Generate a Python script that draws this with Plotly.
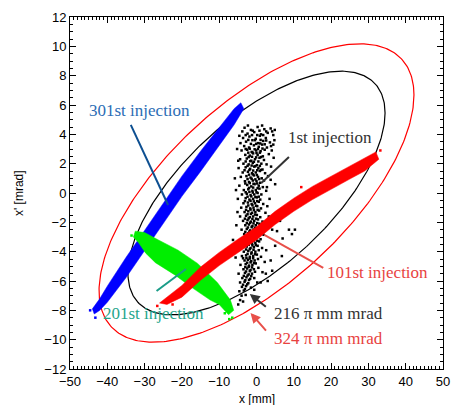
import numpy as np
import plotly.graph_objects as go

# ---------------- data ----------------
# Twiss parameters of the acceptance ellipses and emittances [pi mm mrad]
twiss_alpha = -0.87
twiss_beta = 5.5          # mm/mrad
emittances = [216, 324]
ellipse_colors = ["black", "red"]

# 1st injection (black cloud), individual particles
black_pts = [
    (-3.2, 4.45), (-1.5, 4.3), (0.3, 4.5), (2.1, 4.35), (3.8, 4.4),
    (-2.4, 4.05), (-0.6, 4.15), (1.2, 4.0), (3.0, 4.1), (4.5, 3.95),
    (-3.6, 3.75), (-1.9, 3.85), (-0.2, 3.7), (0.9, 3.9), (2.5, 3.75),
    (-2.8, 3.5), (-1.1, 3.6), (0.4, 3.4), (1.8, 3.55), (3.6, 3.45),
    (-3.3, 3.2), (-2.0, 3.1), (-0.7, 3.25), (0.6, 3.15), (1.5, 3.3), (2.8, 3.1),
    (-4.0, 2.9), (-2.5, 2.95), (-1.3, 2.8), (-0.1, 2.9), (1.1, 2.85), (2.2, 2.95),
    (-3.0, 2.6), (-1.8, 2.55), (-0.9, 2.7), (0.3, 2.6), (1.7, 2.5), (3.3, 2.65),
    (-4.4, 2.3), (-2.6, 2.35), (-1.4, 2.2), (-0.4, 2.3), (0.8, 2.4), (2.0, 2.25),
    (-3.5, 2.0), (-2.1, 1.95), (-1.0, 2.05), (0.1, 1.9), (1.3, 2.0), (2.7, 1.95),
    (-4.8, 1.7), (-2.9, 1.75), (-1.7, 1.65), (-0.6, 1.8), (0.5, 1.7), (1.6, 1.6),
    (-3.7, 1.4), (-2.3, 1.45), (-1.2, 1.35), (-0.2, 1.4), (0.9, 1.5), (2.3, 1.35),
    (-4.2, 1.1), (-2.7, 1.15), (-1.6, 1.05), (-0.7, 1.2), (0.4, 1.1), (1.4, 1.0), (3.1, 1.15),
    (-3.1, 0.8), (-2.0, 0.75), (-1.0, 0.85), (0.0, 0.8), (1.0, 0.7), (2.0, 0.85),
    (-4.6, 0.5), (-2.5, 0.55), (-1.4, 0.45), (-0.5, 0.6), (0.6, 0.5), (1.7, 0.4),
    (-3.4, 0.2), (-2.2, 0.25), (-1.1, 0.15), (-0.2, 0.2), (0.8, 0.3), (2.6, 0.15),
    (-3.9, -0.1), (-2.6, -0.05), (-1.6, -0.15), (-0.6, -0.1), (0.3, 0.0), (1.3, -0.1),
    (-5.0, -0.4), (-2.9, -0.35), (-1.9, -0.45), (-0.9, -0.4), (0.1, -0.3), (1.0, -0.45), (3.5, -0.4),
    (-3.5, -0.7), (-2.3, -0.65), (-1.3, -0.75), (-0.4, -0.7), (0.6, -0.6), (1.8, -0.75),
    (-4.1, -1.0), (-2.7, -0.95), (-1.7, -1.05), (-0.8, -1.0), (0.2, -0.9), (1.2, -1.05),
    (-3.2, -1.3), (-2.2, -1.25), (-1.2, -1.35), (-0.3, -1.3), (0.7, -1.2), (2.4, -1.35),
    (-4.4, -1.6), (-2.8, -1.55), (-1.8, -1.65), (-0.9, -1.6), (0.1, -1.5), (1.0, -1.65),
    (-3.6, -1.9), (-2.4, -1.85), (-1.5, -1.95), (-0.6, -1.9), (0.4, -1.8), (1.6, -1.95),
    (-3.0, -2.2), (-2.0, -2.15), (-1.1, -2.25), (-0.2, -2.2), (0.8, -2.1), (2.0, -2.25),
    (-4.0, -2.5), (-2.6, -2.45), (-1.7, -2.55), (-0.8, -2.5), (0.2, -2.4), (1.3, -2.55), (4.2, -2.5),
    (-3.3, -2.8), (-2.2, -2.75), (-1.3, -2.85), (-0.4, -2.8), (0.6, -2.7), (1.9, -2.85),
    (-3.8, -3.1), (-2.7, -3.05), (-1.8, -3.15), (-0.9, -3.1), (0.1, -3.0), (1.1, -3.15),
    (-3.1, -3.4), (-2.1, -3.35), (-1.2, -3.45), (-0.3, -3.4), (0.7, -3.3),
    (-4.5, -3.7), (-2.6, -3.65), (-1.6, -3.75), (-0.7, -3.7), (0.3, -3.6), (1.5, -3.75),
    (-3.4, -4.0), (-2.2, -3.95), (-1.3, -4.05), (-0.3, -4.0), (0.6, -3.9),
    (-3.9, -4.3), (-2.8, -4.25), (-1.8, -4.35), (-0.9, -4.3), (0.1, -4.2), (1.2, -4.35),
    (-3.2, -4.6), (-2.3, -4.55), (-1.4, -4.65), (-0.5, -4.6), (0.4, -4.5),
    (-4.3, -4.9), (-2.9, -4.85), (-2.0, -4.95), (-1.1, -4.9), (-0.2, -4.8),
    (-3.5, -5.2), (-2.5, -5.15), (-1.6, -5.25), (-0.7, -5.2), (0.5, -5.1),
    (-4.8, -5.5), (-3.1, -5.45), (-2.1, -5.55), (-1.2, -5.5),
    (-3.8, -5.8), (-2.7, -5.75), (-1.7, -5.85), (-0.6, -5.8),
    (-4.4, -6.1), (-3.2, -6.05), (-2.2, -6.15),
    (-3.9, -6.4), (-2.8, -6.35), (-1.5, -6.45),
    (-4.6, -6.7), (-3.4, -6.65),
    (-4.0, -7.0), (-2.9, -6.95),
    (-4.4, -7.3), (-4.9, -7.6), (-3.6, -7.4),
    # denser core, between the rows above
    (-1.0, 4.25), (0.8, 4.25), (2.6, 4.2), (-3.8, 4.2), (4.2, 4.2),
    (-2.9, 3.95), (-1.2, 3.95), (0.2, 3.95), (1.8, 3.95),
    (-2.2, 3.62), (-0.4, 3.6), (1.1, 3.62), (2.6, 3.58), (-4.3, 3.4), (3.9, 3.2),
    (-1.5, 3.35), (-0.1, 3.35), (1.0, 3.38), (2.2, 3.32),
    (-2.9, 3.0), (-1.8, 3.02), (-0.5, 2.98), (0.4, 3.0), (1.6, 3.03),
    (-2.2, 2.75), (-1.1, 2.77), (0.0, 2.73), (0.9, 2.75),
    (-2.1, 2.45), (-1.2, 2.47), (-0.1, 2.43), (1.2, 2.45), (4.6, 2.4),
    (-2.9, 2.15), (-1.7, 2.17), (-0.7, 2.13), (0.5, 2.15),
    (-2.4, 1.85), (-1.3, 1.87), (-0.3, 1.83), (0.9, 1.85),
    (-3.2, 1.55), (-1.9, 1.57), (-0.9, 1.53), (0.2, 1.55), (1.2, 1.57),
    (-2.0, 1.25), (-1.0, 1.27), (0.1, 1.23),
    (-2.4, 0.95), (-1.3, 0.97), (-0.3, 0.93), (0.7, 0.95),
    (-3.0, 0.65), (-1.8, 0.67), (-0.8, 0.63), (0.2, 0.65),
    (-2.0, 0.35), (-0.9, 0.37), (0.3, 0.33),
    (-2.9, 0.05), (-1.9, 0.07), (-1.0, 0.03), (0.0, 0.05),
    (-2.4, -0.25), (-1.4, -0.23), (-0.3, -0.27), (0.6, -0.25),
    (-3.1, -0.55), (-1.6, -0.53), (-0.7, -0.57), (0.2, -0.55),
    (-2.2, -0.85), (-1.1, -0.83), (-0.1, -0.87),
    (-2.8, -1.15), (-1.6, -1.13), (-0.7, -1.17), (0.3, -1.15),
    (-2.4, -1.45), (-1.5, -1.43), (-0.4, -1.47),
    (-3.1, -1.75), (-2.1, -1.73), (-1.1, -1.77), (-0.1, -1.75),
    (-2.6, -2.05), (-1.7, -2.03), (-0.8, -2.07), (0.2, -2.05),
    (-2.3, -2.35), (-1.3, -2.33), (-0.4, -2.37),
    (-3.0, -2.65), (-1.9, -2.63), (-0.9, -2.67), (0.1, -2.65),
    (-2.5, -2.95), (-1.5, -2.93), (-0.5, -2.97),
    (-2.7, -3.25), (-1.7, -3.23), (-0.8, -3.27), (0.2, -3.25),
    (-3.3, -3.55), (-2.1, -3.53), (-1.1, -3.57), (-0.2, -3.55),
    (-2.8, -3.85), (-1.8, -3.83), (-0.8, -3.87),
    (-2.4, -4.15), (-1.4, -4.13), (-0.4, -4.17),
    (-3.6, -4.45), (-2.7, -4.43), (-1.8, -4.47), (-0.9, -4.45),
    (-2.5, -4.75), (-1.6, -4.73), (-0.6, -4.77),
    (-3.0, -5.05), (-2.1, -5.03), (-1.2, -5.07),
    (-2.8, -5.35), (-1.8, -5.33), (-0.4, -5.37),
    (-3.4, -5.65), (-2.4, -5.63), (-1.4, -5.67),
    (-3.0, -5.95), (-2.0, -5.93),
    (-3.6, -6.25), (-2.5, -6.23),
    (-3.1, -6.55),
    # sparse particles around the column edges
    (-5.2, 3.0), (4.8, 3.6), (-4.9, 2.2), (4.1, 2.9), (-5.5, 0.2), (3.8, 0.9),
    (-5.1, -1.3), (3.3, -1.6), (-5.4, -2.2), (2.9, -0.9), (-4.9, -3.9), (2.6, -3.9),
    (2.2, -4.7), (1.6, -5.4), (-5.6, -4.4), (1.1, -6.1), (-0.6, -6.6), (0.2, -6.1),
    (3.2, -2.2), (2.8, 0.4), (-4.6, 3.9), (4.9, 4.3), (-2.3, 4.6), (1.5, 4.6),
    # stray particles to the right of the column
    (4.5, -2.0), (5.5, -2.6), (6.3, -1.9), (7.0, -3.1), (8.7, -2.5), (9.5, -2.8),
    (10.3, -2.5), (5.0, -3.6), (6.8, -4.3), (3.8, -4.6), (4.2, -5.3), (3.0, -6.0),
    (2.5, -5.5), (4.5, 3.3), (5.0, 0.6), (-5.8, 1.0), (-6.3, -3.2), (3.9, 1.8),
]
black_x = [p[0] for p in black_pts]
black_y = [p[1] for p in black_pts]

# 101st injection (red band outline)
red_x = [-26, -20, -15, -10, -5, 0, 5, 10, 15, 20, 25, 29, 32,
         32.8, 29, 25, 20, 15, 10, 5, 0, -5, -10, -15, -20, -24]
red_y = [-7.5, -6.3, -5.05, -4.05, -3.15, -2.3, -1.25, -0.35, 0.45, 1.15, 1.85, 2.4, 2.8,
         2.3, 1.5, 0.95, 0.25, -0.45, -1.25, -2.15, -3.2, -4.05, -4.95, -5.95, -7.1, -7.6]
red_stray_x = [33.2, -26.6, -22.5, 12.0]
red_stray_y = [2.9, -7.7, -7.6, 0.4]

# 201st injection (green cloud outline)
green_x = [-32.5, -30, -26.3, -21, -15.8, -10.5, -7, -6.1, -7.5, -10, -12.4, -17.6, -21.8, -27.1, -29.7, -31.6, -33]
green_y = [-2.6, -2.7, -3.2, -3.9, -4.8, -6.1, -7.3, -8.0, -8.3, -7.6, -7.3, -6.4, -5.6, -4.75, -4.1, -3.4, -3.0]
green_stray_x = [-33.5, -6.5, -7.3, -8.5]
green_stray_y = [-2.9, -8.5, -8.6, -8.2]

# 301st injection (blue band outline)
blue_x = [-44, -42, -40, -35, -30, -25, -20, -15, -10, -6, -4.2,
          -3.4, -6, -10, -15, -20, -25, -30, -35, -40, -42, -43.5]
blue_y = [-7.9, -7.2, -6.35, -4.4, -2.55, -0.7, 1.15, 2.85, 4.5, 5.75, 6.15,
          5.75, 4.65, 3.2, 1.47, -0.23, -2.1, -3.93, -5.78, -7.45, -8.0, -8.25]
blue_stray_x = [-44.6, -43.2]
blue_stray_y = [-8.0, -8.5]

x_ticks = list(range(-50, 51, 10))
y_ticks = list(range(-12, 13, 2))

# ---------------- figure ----------------
fig = go.Figure()

# acceptance ellipses
t = np.linspace(0, 2 * np.pi, 361)
for eps, col in zip(emittances, ellipse_colors):
    ex = np.sqrt(eps * twiss_beta) * np.cos(t)
    ey = -np.sqrt(eps / twiss_beta) * (twiss_alpha * np.cos(t) + np.sin(t))
    fig.add_trace(go.Scatter(x=ex, y=ey, mode="lines", line=dict(color=col, width=1.2),
                             hoverinfo="skip", showlegend=False))


def cloud(xs, ys, color):
    fig.add_trace(go.Scatter(x=xs + xs[:1], y=ys + ys[:1], mode="lines", fill="toself",
                             fillcolor=color, line=dict(width=0.5, color=color),
                             showlegend=False, hoverinfo="skip"))


def dots(xs, ys, color, size=2.5):
    fig.add_trace(go.Scatter(x=xs, y=ys, mode="markers",
                             marker=dict(color=color, size=size, symbol="square", line=dict(width=0)),
                             showlegend=False, hoverinfo="skip"))


dots(black_x, black_y, "black", size=2.5)
cloud(blue_x, blue_y, "#0000ff")
dots(blue_stray_x, blue_stray_y, "#0000ff")
cloud(green_x, green_y, "#00ee00")
dots(green_stray_x, green_stray_y, "#00ee00")
cloud(red_x, red_y, "#ff0000")
dots(red_stray_x, red_stray_y, "#ff0000")

serif = "Liberation Serif"

# leader lines
leaders = [
    ((-33.7, 4.64), (-23.7, -0.82), "#0d4f91"),
    ((8.7, 2.45), (1.3, 0.68), "#333333"),
    ((2.1, -2.86), (17.9, -5.1), "#e8504a"),
    ((-26.8, -6.68), (-18.9, -5.18), "#1a9c88"),
]
for (x0, y0), (x1, y1), col in leaders:
    fig.add_shape(type="line", xref="x", yref="y", x0=x0, y0=y0, x1=x1, y1=y1,
                  line=dict(color=col, width=2))

annotations = [
    dict(x=-31.3, y=5.6, text="301st injection", font=dict(color="#2c6db5")),
    dict(x=19.6, y=3.8, text="1st injection", font=dict(color="#333333")),
    dict(x=32.5, y=-5.4, text="101st injection", font=dict(color="#e8423f")),
    dict(x=19.3, y=-8.2, text="216 \u03c0 mm mrad", font=dict(color="#333333")),
    dict(x=19.3, y=-9.9, text="324 \u03c0 mm mrad", font=dict(color="#e8423f")),
    dict(x=-27.6, y=-8.2, text="201st injection", font=dict(color="#1fa58c")),
]
for a in annotations:
    a["font"].update(family=serif, size=17)
    fig.add_annotation(xref="x", yref="y", showarrow=False, xanchor="center",
                       yanchor="middle", **a)

# arrows
for (hx, hy), (tx, ty), col in [((-1.8, -6.88), (2.9, -7.84), "#333333"),
                                 ((-1.6, -8.18), (2.9, -9.48), "#e8504a")]:
    fig.add_annotation(x=hx, y=hy, ax=tx, ay=ty, xref="x", yref="y", axref="x", ayref="y",
                       text="", showarrow=True, arrowhead=2, arrowsize=1, arrowwidth=2,
                       arrowcolor=col, standoff=0)

# axis titles
sans = "Liberation Sans"
fig.add_annotation(x=0.5, y=0, xref="paper", yref="paper", yanchor="middle", yshift=-30,
                   text="x [mm]", showarrow=False, font=dict(family=sans, size=12, color="black"))
fig.add_annotation(x=0, y=0.5, xref="paper", yref="paper", xanchor="center", xshift=-51,
                   text="x' [mrad]", textangle=-90, showarrow=False,
                   font=dict(family=sans, size=12, color="black"))

axis_common = dict(showgrid=False, zeroline=False, showline=True, linecolor="black",
                   linewidth=1, mirror="allticks", ticks="inside", ticklen=6, tickwidth=1,
                   tickcolor="black", tickfont=dict(family=sans, size=13, color="black"))
fig.update_xaxes(range=[-50, 50], tickvals=x_ticks,
                 ticktext=[str(v).replace("-", "\u2212") for v in x_ticks],
                 minor=dict(dtick=1, ticklen=3, ticks="inside", tickcolor="black"), **axis_common)
fig.update_yaxes(range=[-12, 12], tickvals=y_ticks,
                 ticktext=[str(v).replace("-", "\u2212") for v in y_ticks],
                 minor=dict(dtick=0.5, ticklen=3, ticks="inside", tickcolor="black"), **axis_common)

fig.update_layout(width=458, height=405, margin=dict(l=70, r=8, t=17, b=36),
                  plot_bgcolor="white", paper_bgcolor="white", showlegend=False)

fig.write_html("out.html", post_script="document.body.style.margin='0';",
               config={"displayModeBar": False})
